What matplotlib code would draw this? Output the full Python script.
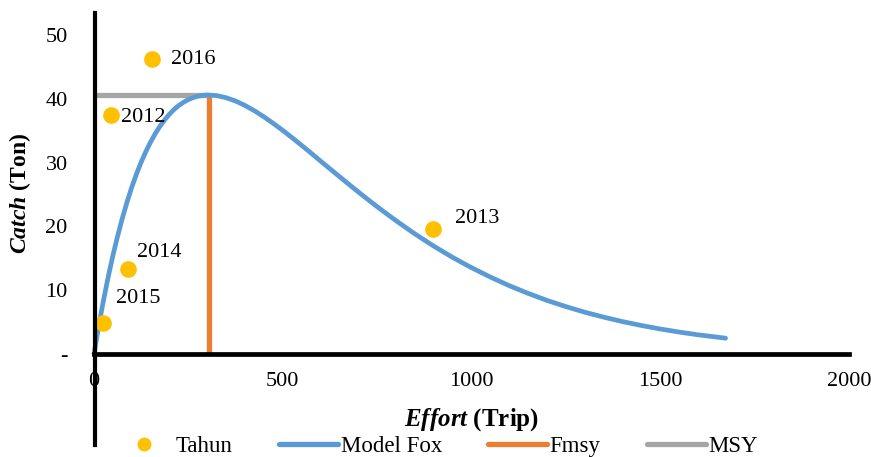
import matplotlib
matplotlib.use("Agg")
from matplotlib import pyplot as plt
from matplotlib.lines import Line2D

plt.rcParams["font.family"] = ["Liberation Serif", "DejaVu Serif"]
plt.rcParams["mathtext.fontset"] = "custom"
plt.rcParams["mathtext.rm"] = "Liberation Serif"
plt.rcParams["mathtext.it"] = "Liberation Serif:italic:bold"
plt.rcParams["mathtext.bf"] = "Liberation Serif:bold"

# observed effort / catch per year
years = ["2012", "2013", "2014", "2015", "2016"]
effort = [45, 897, 90, 25, 154]
catch = [37.4, 19.6, 13.4, 4.8, 46.2]

# Fox surplus production curve
fox_effort = [0, 5, 10, 15, 20, 25, 35, 40, 50, 60, 75, 87.5, 100, 112.5,
              125, 137.5, 150, 162.5, 175, 187.5, 200, 212.5, 225, 237.5, 250,
              262.5, 275, 287.5, 300, 325, 350, 375, 400, 425, 450, 475, 500,
              525, 550, 575, 600, 625, 650, 675, 700, 725, 750, 775, 800, 825,
              850, 875, 900, 925, 950, 975, 1000, 1050, 1100, 1150, 1200,
              1250, 1300, 1350, 1400, 1450, 1500, 1550, 1600, 1673]
fox_catch = [0, 1.79, 3.51, 5.18, 6.80, 8.36, 11.32, 12.73, 15.40, 17.88,
             21.27, 23.82, 26.13, 28.21, 30.08, 31.75, 33.24, 34.56, 35.72,
             36.73, 37.60, 38.35, 38.97, 39.47, 39.88, 40.18, 40.40, 40.53,
             40.60, 40.50, 40.17, 39.65, 38.96, 38.12, 37.18, 36.14, 35.05,
             33.89, 32.70, 31.49, 30.25, 29.03, 27.81, 26.60, 25.41, 24.24,
             23.09, 21.99, 20.90, 19.86, 18.83, 17.86, 16.91, 16.02, 15.14,
             14.33, 13.53, 12.06, 10.71, 9.50, 8.40, 7.43, 6.55, 5.78, 5.08,
             4.47, 3.92, 3.44, 3.01, 2.48]

f_msy = 304
msy = 40.6

# label offsets in pixels (dx, dy)
label_offsets = {"2012": (10, -2), "2013": (22, 10), "2014": (9, 16),
                 "2015": (13, 25), "2016": (19, 0)}

c_dot = "#FFC000"
c_fox = "#5B9BD5"
c_fmsy = "#ED7D31"
c_msy = "#A5A5A5"

fig = plt.figure(figsize=(8.71, 4.57), dpi=100)
ax = fig.add_axes([94 / 871, 103 / 457, 755 / 871, 319 / 457])
ax.set_xlim(0, 2000)
ax.set_ylim(0, 50)
for s in ax.spines.values():
    s.set_visible(False)

ax.plot(fox_effort, fox_catch, color=c_fox, lw=3.4, solid_capstyle="round",
        solid_joinstyle="round", clip_on=False, zorder=3)
ax.plot([f_msy, f_msy], [0, msy], color=c_fmsy, lw=3.8, solid_capstyle="butt",
        zorder=2)
ax.plot([0, f_msy], [msy, msy], color=c_msy, lw=3.8, solid_capstyle="butt",
        zorder=2)
ax.plot(effort, catch, "o", color=c_dot, ms=12, mec="none", clip_on=False,
        zorder=4)
for y, e, c in zip(years, effort, catch):
    dx, dy = label_offsets[y]
    ax.annotate(y, (e, c), xytext=(dx, dy), textcoords="offset pixels",
                ha="left", va="center", fontsize=16)

# heavy x axis line
ax.axhline(0, color="black", lw=3.4, zorder=5, clip_on=False)
# vertical axis line runs past the plot area
fig.add_artist(Line2D([95 / 871, 95 / 871], [1 - 13 / 457, 1 - 445 / 457],
                      color="black", lw=3.0))

ax.set_xticks([0, 500, 1000, 1500, 2000])
ax.set_yticks([0, 10, 20, 30, 40, 50])
ax.set_yticklabels(["-", "10", "20", "30", "40", "50"])
ax.tick_params(length=0, labelsize=16)
ax.tick_params(axis="x", pad=13)
ax.tick_params(axis="y", pad=19)

fig.text(472 / 871, 1 - 420 / 457, r"$\mathit{Effort}$ (Trip)", ha="center",
         va="center", fontsize=18, fontweight="bold")
fig.text(20 / 871, 1 - 193 / 457, r"$\mathit{Catch}$ (Ton)", ha="center",
         va="center", fontsize=17, fontweight="bold", rotation=90)

handles = [
    Line2D([], [], ls="none", marker="o", color=c_dot, ms=10, mec="none"),
    Line2D([], [], color=c_fox, lw=3.8, solid_capstyle="round"),
    Line2D([], [], color=c_fmsy, lw=3.8, solid_capstyle="round"),
    Line2D([], [], color=c_msy, lw=3.8, solid_capstyle="round"),
]
fig.legend(handles, ["Tahun", "Model Fox", "Fmsy", "MSY"], ncol=4,
           loc="center", bbox_to_anchor=(436 / 871, 1 - 446 / 457),
           frameon=False, fontsize=16.5, handlelength=2.6, handletextpad=0.1,
           columnspacing=2.0, borderpad=0)

fig.savefig("out.png", dpi=100)
